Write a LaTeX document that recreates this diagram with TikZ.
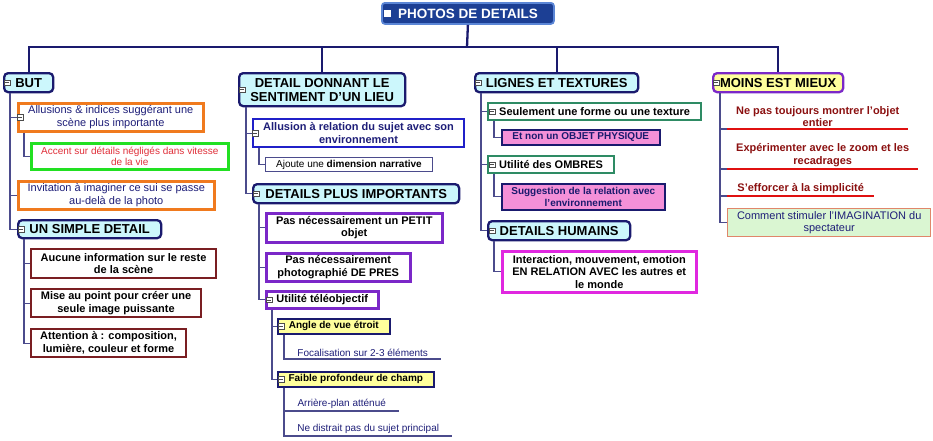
\documentclass[tikz,border=0pt]{standalone}
\usepackage{fontspec}
\setmainfont{Liberation Sans}
\usepackage{tikz}
\usetikzlibrary{positioning}
\definecolor{navyln}{HTML}{1A1A6E}
\definecolor{subln}{HTML}{4B4B8C}
\definecolor{rootfill}{HTML}{1C3F94}
\definecolor{rootdraw}{HTML}{5B86D6}
\definecolor{cyanfill}{HTML}{CCF7FC}
\definecolor{orangeln}{HTML}{F07A1E}
\definecolor{greenln}{HTML}{22E022}
\definecolor{redtxt}{HTML}{E0303A}
\definecolor{darkred}{HTML}{7A1E22}
\definecolor{blueln}{HTML}{2020C8}
\definecolor{purpleln}{HTML}{7B28C8}
\definecolor{yellowfill}{HTML}{FFFF9C}
\definecolor{tealln}{HTML}{2E8B64}
\definecolor{pinkfill}{HTML}{F490D8}
\definecolor{magentaln}{HTML}{E028E0}
\definecolor{brownred}{HTML}{8B1010}
\definecolor{redln}{HTML}{E01010}
\definecolor{mintfill}{HTML}{DAF6D2}
\definecolor{salmonln}{HTML}{E0866A}
\definecolor{textnavy}{HTML}{1E1E78}
\newcommand{\fhead}{\fontsize{13}{14}\selectfont\bfseries}
\newcommand{\froot}{\fontsize{13.5}{14}\selectfont\bfseries}
\newcommand{\fbody}{\fontsize{11}{12.5}\selectfont}
\newcommand{\fbold}{\fontsize{11}{12.5}\selectfont\bfseries}
\newcommand{\fsmall}{\fontsize{10}{11.5}\selectfont}
\newcommand{\fsbold}{\fontsize{10}{11.5}\selectfont\bfseries}

\begin{document}
\begin{tikzpicture}[
      x=1pt,y=-1pt,
      bx/.style={anchor=north west,inner sep=1pt,align=center},
      rootbox/.style={bx,draw=rootdraw,line width=1.8pt,rounded corners=3pt,fill=rootfill,text=white,font=\froot},
      topic/.style={bx,draw=navyln,line width=2.3pt,rounded corners=4pt,fill=cyanfill,font=\fhead},
      item/.style={bx,line width=2.5pt,fill=white,font=\fbody,text=textnavy},
      boldbox/.style={item,line width=2.1pt,font=\fbold,text=black},
      yelbox/.style={bx,draw=navyln,line width=1.6pt,fill=yellowfill,font=\fsbold},
      pinkbox/.style={bx,draw=navyln,line width=1.6pt,fill=pinkfill,font=\fsbold,text=navyln},
      uline/.style={anchor=south west,inner sep=2pt,align=center,font=\fsmall,text=textnavy},
      redline/.style={anchor=south west,inner sep=2pt,align=center,font=\fbold,text=brownred},
      mk/.style={anchor=center,draw=gray!60!black,fill=white,line width=.5pt,minimum size=5.5pt,inner sep=0pt,
        path picture={\draw[line width=.5pt] ([xshift=1pt]path picture bounding box.west) -- ([xshift=-1pt]path picture bounding box.east);}},
      bus/.style={draw=navyln,line width=2.3pt},
      link/.style={draw=subln,line width=1.1pt}
    ]
    \useasboundingbox (0,0) rectangle (933,440);

    \node[rootbox,minimum width=172,minimum height=21] (root) at (381,2) {PHOTOS DE DETAILS};

    \node[topic,minimum width=49,minimum height=19] (but) at (3,72) {BUT};
    \node[topic,minimum width=166,minimum height=33] (lieu) at (238,72) {DETAIL DONNANT LE\\SENTIMENT D'UN LIEU};
    \node[topic,minimum width=163,minimum height=19] (lignes) at (474,72) {LIGNES ET TEXTURES};
    \node[topic,fill=yellowfill,draw=purpleln,minimum width=130,minimum height=19] (moins) at (712,72) {MOINS EST MIEUX};

    \coordinate (hub) at (467,47);
    \draw[bus] (root.south) -- (hub);
    \draw[bus] (but.north) |- (hub) -| (moins.north);
    \draw[bus] (hub -| lieu.north) -- (lieu.north);
    \draw[bus] (hub -| lignes.north) -- (lignes.north);

    \node[item,draw=orangeln,minimum width=185,minimum height=28] (allu) at (17,102) {Allusions \& indices suggérant une\\scène plus importante};
    \node[item,draw=greenln,text=redtxt,font=\fsmall,minimum width=197,minimum height=26] (accent) at (30,142) {Accent sur détails négligés dans vitesse\\de la vie};
    \node[item,draw=orangeln,minimum width=196,minimum height=28] (invit) at (17,180) {Invitation à imaginer ce sui se passe\\au-delà de la photo};
    \node[topic,minimum width=143,minimum height=18] (simple) at (17,219) {UN SIMPLE DETAIL};
    \node[boldbox,draw=darkred,minimum width=185,minimum height=29] (aucune) at (30,248) {Aucune information sur le reste\\de la scène};
    \node[boldbox,draw=darkred,minimum width=170,minimum height=28] (mise) at (30,288) {Mise au point pour créer une\\seule image puissante};
    \node[boldbox,draw=darkred,minimum width=155,minimum height=28] (attn) at (30,328) {Attention à : composition,\\lumière, couleur et forme};

    \draw[link] ([xshift=7pt]but.south west) |- (allu.west);
    \draw[link] ([xshift=7pt]but.south west) |- (invit.west);
    \draw[link] ([xshift=7pt]but.south west) |- (simple.west);
    \draw[link] ([xshift=7pt]allu.south west) |- (accent.west);
    \draw[link] ([xshift=7pt]simple.south west) |- (aucune.west);
    \draw[link] ([xshift=7pt]simple.south west) |- (mise.west);
    \draw[link] ([xshift=7pt]simple.south west) |- (attn.west);

    \node[boldbox,draw=blueln,text=textnavy,minimum width=211,minimum height=28] (rel) at (252,118) {Allusion à relation du sujet avec son\\environnement};
    \node[item,draw=subln,line width=.9pt,font=\fsmall,text=black,minimum width=167,minimum height=14] (ajoute) at (265,157) {Ajoute une \textbf{dimension narrative}};
    \node[topic,minimum width=206,minimum height=19] (plus) at (252,183) {DETAILS PLUS IMPORTANTS};
    \node[boldbox,draw=purpleln,line width=2.5pt,minimum width=176,minimum height=29] (petit) at (265,212) {Pas nécessairement un PETIT\\objet};
    \node[boldbox,draw=purpleln,line width=2.5pt,minimum width=144,minimum height=28] (pres) at (265,252) {Pas nécessairement\\photographié DE PRES};
    \node[boldbox,draw=purpleln,line width=2.5pt,minimum width=112,minimum height=17] (tele) at (265,290) {Utilité téléobjectif};
    \node[yelbox,minimum width=112,minimum height=15] (angle) at (277,318) {Angle de vue étroit};
    \node[uline,minimum width=157] (focal) at (284,359) {Focalisation sur 2-3 éléments};
    \node[yelbox,minimum width=156,minimum height=15] (faible) at (277,371) {Faible profondeur de champ};
    \node[uline,minimum width=115] (arriere) at (284,411) {Arrière-plan atténué};
    \node[uline,minimum width=168] (distrait) at (284,436) {Ne distrait pas du sujet principal};

    \draw[link] ([xshift=8pt]lieu.south west) |- (rel.west);
    \draw[link] ([xshift=8pt]lieu.south west) |- (plus.west);
    \draw[link] ([xshift=7pt]rel.south west) |- (ajoute.west);
    \draw[link] ([xshift=7pt]plus.south west) |- (petit.west);
    \draw[link] ([xshift=7pt]plus.south west) |- (pres.west);
    \draw[link] ([xshift=7pt]plus.south west) |- (tele.west);
    \draw[link] ([xshift=7pt]tele.south west) |- (angle.west);
    \draw[link] ([xshift=7pt]tele.south west) |- (faible.west);
    \draw[link] ([xshift=7pt]angle.south west) -- (focal.south west) -- (focal.south east);
    \draw[link] ([xshift=7pt]faible.south west) -- (distrait.south west) -- (distrait.south east);
    \draw[link] (arriere.south west) -- (arriere.south east);

    \node[boldbox,draw=tealln,minimum width=213,minimum height=17] (seul) at (487,102) {Seulement une forme ou une texture};
    \node[pinkbox,minimum width=158,minimum height=15] (objet) at (501,129) {Et non un OBJET PHYSIQUE};
    \node[boldbox,draw=tealln,minimum width=126,minimum height=17] (ombres) at (487,155) {Utilité des OMBRES};
    \node[pinkbox,minimum width=163,minimum height=26] (sugg) at (501,183) {Suggestion de la relation avec\\l'environnement};
    \node[topic,minimum width=142,minimum height=19] (humains) at (487,220) {DETAILS HUMAINS};
    \node[boldbox,draw=magentaln,line width=2.5pt,minimum width=194,minimum height=41] (inter) at (501,250) {Interaction, mouvement, emotion\\EN RELATION AVEC les autres et\\le monde};

    \draw[link] ([xshift=7pt]lignes.south west) |- (seul.west);
    \draw[link] ([xshift=7pt]lignes.south west) |- (ombres.west);
    \draw[link] ([xshift=7pt]lignes.south west) |- (humains.west);
    \draw[link] ([xshift=7pt]seul.south west) |- (objet.west);
    \draw[link] ([xshift=7pt]ombres.south west) |- (sugg.west);
    \draw[link] ([xshift=7pt]humains.south west) |- (inter.west);

    \node[redline,minimum width=181] (entier) at (727,129) {Ne pas toujours montrer l'objet\\entier};
    \node[redline,minimum width=191] (zoom) at (727,169) {Expérimenter avec le zoom et les\\recadrages};
    \node[redline,minimum width=147] (simpl) at (727,196) {S'efforcer à la simplicité};
    \node[item,draw=salmonln,line width=1.4pt,fill=mintfill,minimum width=203,minimum height=28] (imag) at (727,208) {Comment stimuler l'IMAGINATION du\\spectateur};

    \draw[link] ([xshift=8pt]moins.south west) |- (entier.south west);
    \draw[link] ([xshift=8pt]moins.south west) |- (zoom.south west);
    \draw[link] ([xshift=8pt]moins.south west) |- (simpl.south west);
    \draw[link] ([xshift=8pt]moins.south west) |- (imag.west);
    \draw[redln,line width=1.4pt] (entier.south west) -- (entier.south east);
    \draw[redln,line width=1.4pt] (zoom.south west) -- (zoom.south east);
    \draw[redln,line width=1.4pt] (simpl.south west) -- (simpl.south east);

    \node[mk,fill=white,draw=white] (rootmk) at ([xshift=6pt]root.west) {};
    \node[mk] (butmk) at ([xshift=4pt]but.west) {};
    \node[mk] (lieumk) at ([xshift=4pt]lieu.west) {};
    \node[mk] (lignesmk) at ([xshift=4pt]lignes.west) {};
    \node[mk] (moinsmk) at ([xshift=4pt]moins.west) {};
    \node[mk] (allumk) at ([xshift=3pt]allu.west) {};
    \node[mk] (simplemk) at ([xshift=4pt]simple.west) {};
    \node[mk] (relmk) at ([xshift=3pt]rel.west) {};
    \node[mk] (plusmk) at ([xshift=4pt]plus.west) {};
    \node[mk] (telemk) at ([xshift=4pt]tele.west) {};
    \node[mk] (anglemk) at ([xshift=4pt]angle.west) {};
    \node[mk] (faiblemk) at ([xshift=4pt]faible.west) {};
    \node[mk] (seulmk) at ([xshift=5pt]seul.west) {};
    \node[mk] (ombresmk) at ([xshift=5pt]ombres.west) {};
    \node[mk] (humainsmk) at ([xshift=5pt]humains.west) {};
  \end{tikzpicture}
\end{document}
